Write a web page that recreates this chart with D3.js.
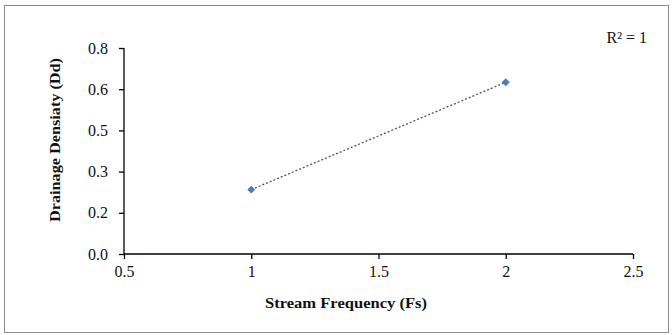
<!DOCTYPE html>
<html>
<head>
<meta charset="utf-8">
<script src="https://cdn.jsdelivr.net/npm/d3@7"></script>
<style>
  html, body { margin: 0; padding: 0; background: #fff; }
  svg text { font-family: "Liberation Serif", "Times New Roman", serif; fill: #111; }
</style>
</head>
<body>
<div id="chart"></div>
<script>
// data
const streamFreq = [1, 2];
const drainageDens = [0.25, 0.667];
const xTicks = [0.5, 1, 1.5, 2, 2.5];
const yTicks = [0, 0.16, 0.32, 0.48, 0.64, 0.8];
const r2Label = 'R² = 1';

const W = 672, H = 335;
const margin = { top: 48, right: 39, bottom: 81, left: 124 };
const width = W - margin.left - margin.right;
const height = H - margin.top - margin.bottom;

const root = d3.select('#chart').append('svg')
  .attr('width', W).attr('height', H);

// outer frame
root.append('rect')
  .attr('x', 4.5).attr('y', 5.5)
  .attr('width', 664).attr('height', 327)
  .attr('fill', '#fff').attr('stroke', '#8c8c8c').attr('stroke-width', 1);

const svg = root.append('g').attr('transform', `translate(${margin.left},${margin.top})`);

const x = d3.scaleLinear().domain([0.5, 2.5]).range([0, width]);
const y = d3.scaleLinear().domain([0, 0.8]).range([height, 0]);

// Axes
const xAxis = svg.append('g').attr('transform', `translate(0,${height})`)
  .call(d3.axisBottom(x).tickValues(xTicks).tickSize(5).tickPadding(7)
    .tickFormat(d => d3.format('')(d)));
const yAxis = svg.append('g')
  .call(d3.axisLeft(y).tickValues(yTicks).tickSize(5).tickPadding(11)
    .tickFormat(d => d.toFixed(1)));

[xAxis, yAxis].forEach(a => {
  a.attr('font-family', null);
  a.selectAll('.domain, .tick line').attr('stroke', '#000').attr('stroke-width', 1.3);
  a.selectAll('text').attr('fill', '#111').style('font-size', '16px')
    .style('font-family', '"Liberation Serif", serif');
});
xAxis.select('.domain').attr('d', `M0,0H${width}`);
yAxis.select('.domain').attr('d', `M0,0V${height}`);

// Linear trendline from the points
const mx = d3.mean(streamFreq), my = d3.mean(drainageDens);
const slope = d3.sum(streamFreq, (v, i) => (v - mx) * (drainageDens[i] - my)) /
  d3.sum(streamFreq, v => (v - mx) ** 2);
const icpt = my - slope * mx;
const [xmin, xmax] = d3.extent(streamFreq);

svg.append('line')
  .attr('x1', x(xmin)).attr('y1', y(icpt + slope * xmin))
  .attr('x2', x(xmax)).attr('y2', y(icpt + slope * xmax))
  .attr('stroke', '#555').attr('stroke-width', 1.3)
  .attr('stroke-dasharray', '2,2');

// Markers
svg.selectAll('.pt').data(streamFreq.map((v, i) => ({ x: v, y: drainageDens[i] })))
  .join('path').attr('class', 'pt')
  .attr('transform', d => `translate(${x(d.x)},${y(d.y)})`)
  .attr('d', d3.symbol(d3.symbolDiamond2, 40))
  .attr('fill', '#4a7ebb');

// Axis titles
root.append('text')
  .attr('x', 346).attr('y', 308)
  .attr('text-anchor', 'middle')
  .attr('textLength', 162).attr('lengthAdjust', 'spacingAndGlyphs')
  .style('font-size', '15px').style('font-weight', 'bold')
  .text('Stream Frequency (Fs)');

root.append('text')
  .attr('transform', 'translate(60,140) rotate(-90)')
  .attr('text-anchor', 'middle')
  .attr('textLength', 164).attr('lengthAdjust', 'spacingAndGlyphs')
  .style('font-size', '15px').style('font-weight', 'bold')
  .text('Drainage Densiaty (Dd)');

// R² annotation
root.append('text')
  .attr('x', 647).attr('y', 43)
  .attr('text-anchor', 'end')
  .style('font-size', '16px')
  .text(r2Label);
</script>
</body>
</html>
